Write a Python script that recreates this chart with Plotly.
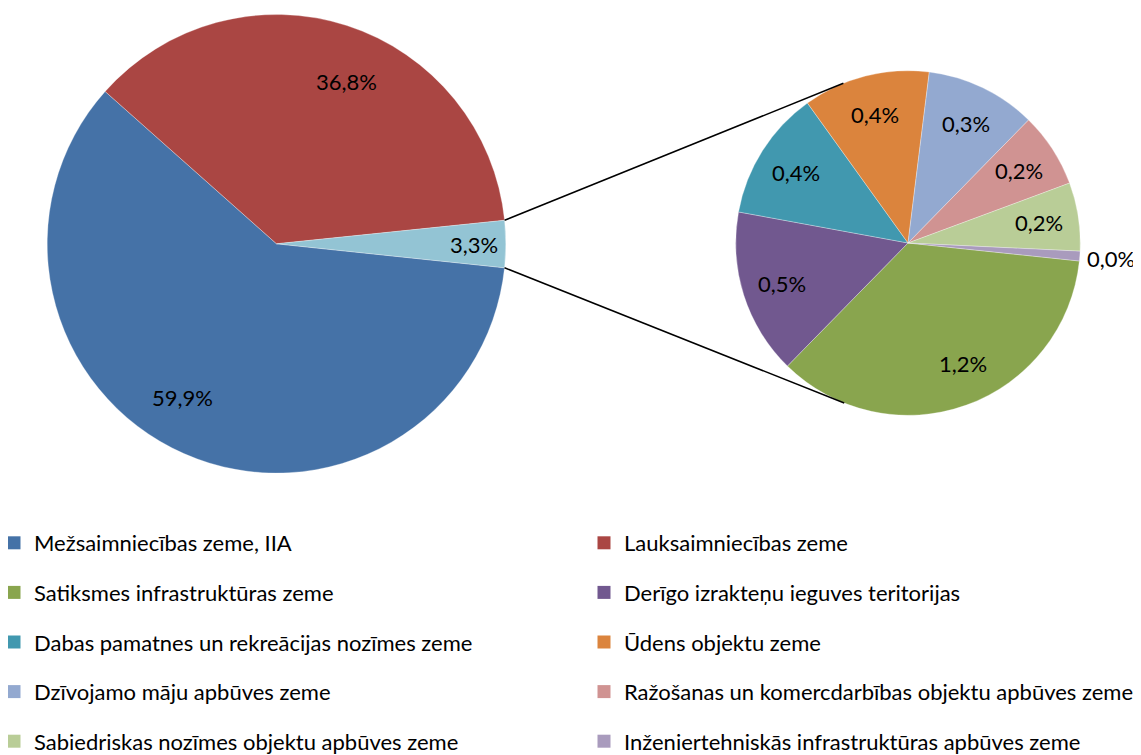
import math
import plotly.graph_objects as go

# ---------------- data ----------------
main_labels = ["Mežsaimniecības zeme, IIA", "Lauksaimniecības zeme", "Citas"]
main_values = [59.9, 36.8, 3.3]

sub_labels = [
    "Satiksmes infrastruktūras zeme",
    "Derīgo izrakteņu ieguves teritorijas",
    "Dabas pamatnes un rekreācijas nozīmes zeme",
    "Ūdens objektu zeme",
    "Dzīvojamo māju apbūves zeme",
    "Ražošanas un komercdarbības objektu apbūves zeme",
    "Sabiedriskas nozīmes objektu apbūves zeme",
    "Inženiertehniskās infrastruktūras apbūves zeme",
]
sub_values = [1.17, 0.51, 0.40, 0.39, 0.34, 0.23, 0.21, 0.03]

legend_left = ["Mežsaimniecības zeme, IIA", "Satiksmes infrastruktūras zeme",
               "Dabas pamatnes un rekreācijas nozīmes zeme", "Dzīvojamo māju apbūves zeme",
               "Sabiedriskas nozīmes objektu apbūves zeme"]
legend_right = ["Lauksaimniecības zeme", "Derīgo izrakteņu ieguves teritorijas",
                "Ūdens objektu zeme", "Ražošanas un komercdarbības objektu apbūves zeme",
                "Inženiertehniskās infrastruktūras apbūves zeme"]

# ---------------- style ----------------
colors = {
    "Mežsaimniecības zeme, IIA": "#4572A7",
    "Lauksaimniecības zeme": "#AA4643",
    "Citas": "#93C4D4",
    "Satiksmes infrastruktūras zeme": "#89A54E",
    "Derīgo izrakteņu ieguves teritorijas": "#71588F",
    "Dabas pamatnes un rekreācijas nozīmes zeme": "#4198AF",
    "Ūdens objektu zeme": "#DB843D",
    "Dzīvojamo māju apbūves zeme": "#93A9D0",
    "Ražošanas un komercdarbības objektu apbūves zeme": "#D09392",
    "Sabiedriskas nozīmes objektu apbūves zeme": "#B9CD97",
    "Inženiertehniskās infrastruktūras apbūves zeme": "#A99BBD",
}
W, H = 1141, 755
FONT = "Lato"
FS = 22
OFF = 8  # page body margin compensation

# pie geometry in pixels (figure coordinates)
L_C, L_R = (276.5 - OFF, 243.8 - OFF), 229.3
R_C, R_R = (908 - OFF, 243 - OFF), 172.3
ROT_L, ROT_R = 96, 96
# label placement (radius fraction, angular nudge in degrees)
main_label_r = [0.785, 0.77, 0.86]
main_label_da = [-7.5, -5.5, 0]
sub_label_r = [0.77] * 7 + [1.18]
sub_label_da = [4.5, 0, 0, 0, 0, 0, 0, 0]


def px(x):
    return x / W


def py(y):
    return 1 - y / H


def dom(c, r):
    return dict(x=[px(c[0] - r), px(c[0] + r)], y=[py(c[1] + r), py(c[1] - r)])


def fmt(v):
    return f"{v:.1f}".replace(".", ",") + "%"


def slice_angles(values, rot):
    tot = sum(values)
    a = 90 - rot
    out = []
    for v in values:
        span = v / tot * 360
        out.append((a, a - span))
        a -= span
    return out


fig = go.Figure()
fig.add_trace(go.Pie(
    labels=main_labels, values=main_values, sort=False, direction="clockwise",
    rotation=ROT_L, domain=dom(L_C, L_R), textinfo="none", showlegend=False,
    marker=dict(colors=[colors[l] for l in main_labels],
                line=dict(width=0.5, color="rgba(255,255,255,0.6)")),
    hoverinfo="label+value",
))
fig.add_trace(go.Pie(
    labels=sub_labels, values=sub_values, sort=False, direction="clockwise",
    rotation=ROT_R, domain=dom(R_C, R_R), textinfo="none", showlegend=False,
    marker=dict(colors=[colors[l] for l in sub_labels],
                line=dict(width=0.5, color="rgba(255,255,255,0.6)")),
    hoverinfo="label+value",
))


def label_annots(values, rot, center, radius, rfs, das):
    out = []
    for (a0, a1), v, rf, da in zip(slice_angles(values, rot), values, rfs, das):
        m = math.radians((a0 + a1) / 2 + da)
        x = center[0] + rf * radius * math.cos(m)
        y = center[1] - rf * radius * math.sin(m)
        out.append(dict(x=px(x), y=py(y), xref="paper", yref="paper", text=fmt(v),
                        xanchor="center", yanchor="middle", showarrow=False,
                        font=dict(family=FONT, size=FS, color="black")))
    return out


annotations = (label_annots(main_values, ROT_L, L_C, L_R, main_label_r, main_label_da)
               + label_annots(sub_values, ROT_R, R_C, R_R, sub_label_r, sub_label_da))

# connector lines: from edges of "other" slice to tangent points on the right pie
oa0, oa1 = slice_angles(main_values, ROT_L)[-1]
shapes = []
for ang, sign in ((oa0, 1), (oa1, -1)):
    r = math.radians(ang)
    p = (L_C[0] + L_R * math.cos(r), L_C[1] - L_R * math.sin(r))
    dx, dy = p[0] - R_C[0], -(p[1] - R_C[1])
    d = math.hypot(dx, dy)
    base = math.atan2(dy, dx)
    t = base - sign * math.acos(R_R / d)
    q = (R_C[0] + R_R * math.cos(t), R_C[1] - R_R * math.sin(t))
    shapes.append(dict(type="line", xref="paper", yref="paper",
                       x0=px(p[0]), y0=py(p[1]), x1=px(q[0]), y1=py(q[1]),
                       line=dict(color="black", width=1.5)))

# legend entries (two columns)
for i, lab in enumerate(legend_left):
    fig.add_trace(go.Scatter(x=[None], y=[None], mode="markers", name=lab,
                             legend="legend", legendgroup=f"l{i}",
                             marker=dict(symbol="square", size=13, color=colors[lab])))
for i, lab in enumerate(legend_right):
    fig.add_trace(go.Scatter(x=[None], y=[None], mode="markers", name=lab,
                             legend="legend2", legendgroup=f"r{i}",
                             marker=dict(symbol="square", size=13, color=colors[lab])))

leg_common = dict(font=dict(family=FONT, size=FS, color="black"), tracegroupgap=18,
                  bgcolor="rgba(0,0,0,0)", yanchor="top", xanchor="left",
                  itemclick=False, itemdoubleclick=False)
fig.update_layout(
    width=W, height=H, margin=dict(l=0, r=0, t=0, b=0, autoexpand=False),
    paper_bgcolor="white", plot_bgcolor="white",
    xaxis=dict(visible=False), yaxis=dict(visible=False),
    annotations=annotations, shapes=shapes,
    legend=dict(x=px(-14), y=py(514), **leg_common),
    legend2=dict(x=px(576), y=py(514), **leg_common),
)
fig.write_html("out.html")
